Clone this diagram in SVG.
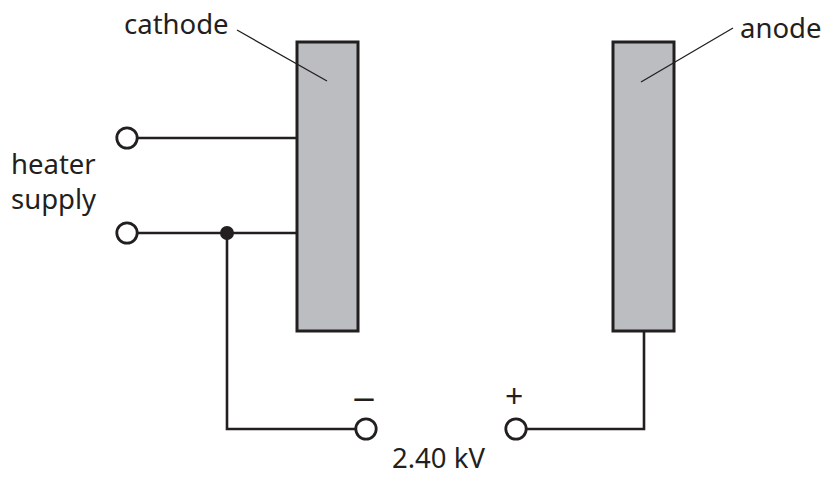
<svg xmlns="http://www.w3.org/2000/svg" width="824" height="477" viewBox="0 0 824 477">
<style>
text{font-family:"Noto Sans","Open Sans","Liberation Sans",sans-serif;font-size:27.5px;fill:#231f20}
.s{font-size:32px}
.w{fill:none;stroke:#231f20;stroke-width:2.6}
.l{fill:none;stroke:#231f20;stroke-width:1.3}
.p{fill:#bbbdc0;stroke:#231f20;stroke-width:3}
.t{fill:#fff;stroke:#231f20;stroke-width:2.8}
</style>
<rect width="824" height="477" fill="#fff"/>
<g id="cathode"><rect class="p" x="297" y="42" width="61" height="289"/><text x="124" y="34">cathode</text></g>
<g id="anode"><rect class="p" x="613" y="42" width="61" height="289"/><text x="740" y="38">anode</text></g>
<g id="connectors">
<path class="w" d="M138 138H296M138 233H296M227 233V429H355M527 429H644V332"/>
<path class="l" d="M237 30L327 81M733 28L641 82"/>
</g>
<g id="heater-terminal-top"><circle class="t" cx="127" cy="138" r="10.2"/></g>
<g id="heater-terminal-bottom"><circle class="t" cx="127" cy="233" r="10.2"/></g>
<g id="junction"><circle cx="227" cy="233" r="7" fill="#231f20"/></g>
<g id="heater-label"><text x="11" y="174">heater</text><text x="11" y="209">supply</text></g>
<g id="negative-terminal"><circle class="t" cx="366" cy="429" r="10.2"/><text class="s" x="352.5" y="409" textLength="23" lengthAdjust="spacingAndGlyphs">–</text></g>
<g id="positive-terminal"><circle class="t" cx="516" cy="429" r="10.2"/><text class="s" x="505" y="408">+</text></g>
<g id="voltage-label"><text x="392" y="468">2.40 kV</text></g>
</svg>
